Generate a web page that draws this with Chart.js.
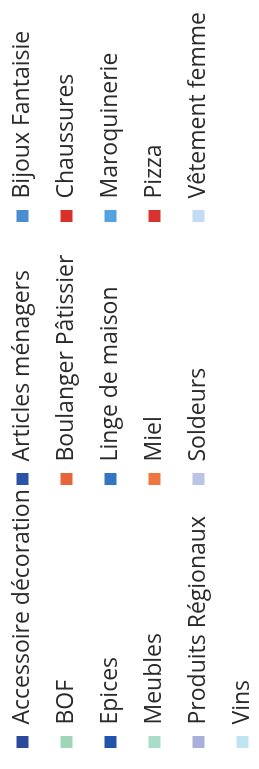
<!DOCTYPE html>
<html>
<head>
<meta charset="utf-8">
<script src="https://cdn.jsdelivr.net/npm/chart.js@4.4.1/dist/chart.umd.min.js"></script>
<style>
  html, body { margin: 0; padding: 0; background: #ffffff; }
  body { width: 259px; height: 769px; overflow: hidden; position: relative; }
  #wrap {
    position: absolute;
    left: -10px;
    top: 769px;
    width: 769px;
    height: 300px;
    transform-origin: 0 0;
    transform: rotate(-90deg);
  }
</style>
</head>
<body>
<div id="wrap"><canvas id="c"></canvas></div>
<script>
// Legend categories (alphabetical, as in the source)
const categories = [
  "Accessoire décoration", "Articles ménagers", "Bijoux Fantaisie",
  "BOF", "Boulanger Pâtissier", "Chaussures",
  "Epices", "Linge de maison", "Maroquinerie",
  "Meubles", "Miel", "Pizza",
  "Produits Régionaux", "Soldeurs", "Vêtement femme",
  "Vins"
];
const colors = [
  "#2b4a9c", "#2a52a6", "#4a8dd0",
  "#9fd6b9", "#e8643a", "#d9302c",
  "#2354ab", "#3474c4", "#52a2e0",
  "#a9dcc9", "#f0763f", "#da3230",
  "#a9aedb", "#b9c4e6", "#c3dbf3",
  "#c0e4f1"
];
const columnsPerRow = 3;
const COLUMN_WIDTH = 242; // legend column width (layout)

const datasets = categories.map((name, i) => ({
  label: name,
  data: [],
  backgroundColor: colors[i],
  borderColor: colors[i],
  borderWidth: 0
}));

// The page is rotated, so the legend's columns are the visual rows:
// reorder row-major -> column-major, padding short columns with blank slots.
function legendLabels(chart) {
  const base = Chart.defaults.plugins.legend.labels.generateLabels(chart);
  const rows = Math.ceil(base.length / columnsPerRow);
  const out = [];
  for (let c = 0; c < columnsPerRow; c++) {
    for (let r = 0; r < rows; r++) {
      const i = r * columnsPerRow + c;
      if (i < base.length) {
        out.push(base[i]);
      } else if (c < columnsPerRow - 1) {
        out.push({ text: '', fillStyle: 'rgba(0,0,0,0)', strokeStyle: 'rgba(0,0,0,0)',
                   lineWidth: 0, hidden: false, datasetIndex: -1 });
      }
    }
  }
  return out;
}

const equalColumns = {
  id: 'equalColumns',
  afterLayout(chart) {
    const lg = chart.legend;
    if (lg && lg.columnSizes) lg.columnSizes.forEach(cs => { cs.width = COLUMN_WIDTH; });
  }
};

new Chart(document.getElementById('c'), {
  type: 'bar',
  data: { labels: [], datasets },
  plugins: [equalColumns],
  options: {
    responsive: true,
    maintainAspectRatio: false,
    animation: false,
    events: [],
    layout: { padding: 0 },
    scales: { x: { display: false }, y: { display: false } },
    plugins: {
      tooltip: { enabled: false },
      legend: {
        position: 'left',
        align: 'start',
        maxWidth: 769,
        labels: {
          boxWidth: 12,
          boxHeight: 12,
          padding: 21,
          color: '#2a2a2a',
          font: { family: '"Open Sans", sans-serif', size: 23 },
          generateLabels: legendLabels
        }
      }
    }
  }
});
</script>
</body>
</html>
